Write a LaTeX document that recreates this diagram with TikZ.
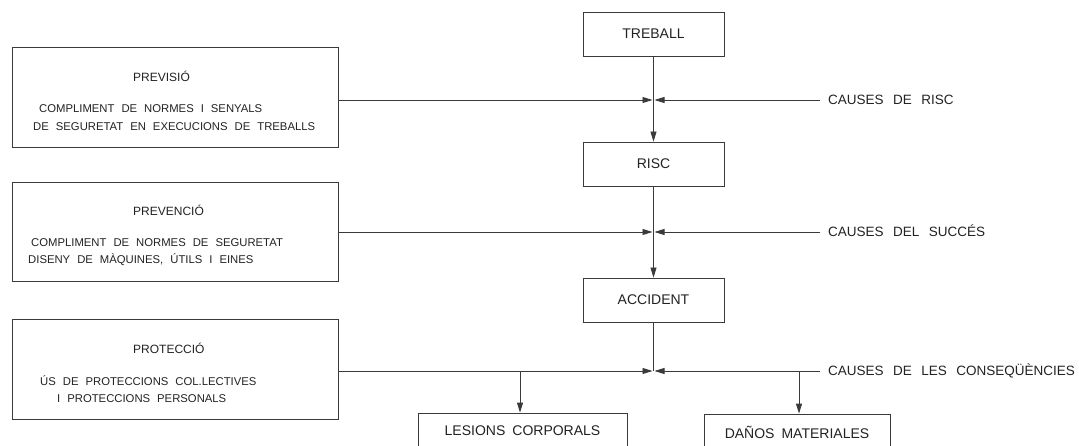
\documentclass[tikz,border=0pt]{standalone}
\usepackage{fontspec}
\setmainfont{Liberation Sans}
\usetikzlibrary{arrows.meta,shadows}
\definecolor{ln}{HTML}{3A3A3A}
\definecolor{tx}{HTML}{222222}
\newcommand\myBoxFont{\fontsize{14}{16}\selectfont\spaceskip 7pt\relax}
\newcommand\myBodyFont{\fontsize{11.3}{13}\selectfont\spaceskip 7pt\relax}
\newcommand\myTitleFont{\fontsize{12}{14}\selectfont}
\newcommand\myLblFont{\fontsize{13.5}{16}\selectfont\spaceskip 9.5pt\relax}
\tikzset{
  box/.style={draw=ln, line width=0.8pt, fill=white, rectangle, inner sep=0pt,
    drop shadow={shadow xshift=1.3pt, shadow yshift=-1.3pt, opacity=1, fill=ln},
    text=tx, font=\myBoxFont},
  bt/.style={anchor=west, inner sep=0pt, text=tx, text height=8.2pt, text depth=0pt,
    font=\myBodyFont},
  ttl/.style={anchor=west, inner sep=0pt, text=tx, text height=8.6pt, text depth=0pt,
    font=\myTitleFont},
  lbl/.style={anchor=west, inner xsep=8pt, inner ysep=0pt, text=tx, text height=9.7pt, text depth=0pt,
    font=\myLblFont},
  arr/.style={draw=ln, line width=0.8pt, -{Triangle[length=10pt,width=6pt]}},
  ln/.style={draw=ln, line width=0.8pt}
}
\begin{document}
\begin{tikzpicture}[x=1pt,y=-1pt]
\useasboundingbox (0,0) rectangle (1079,446);
\clip (0,0) rectangle (1079,446);
% central boxes
\node[box, minimum width=141pt, minimum height=44pt] (treball) at (653.5,34) {TREBALL};
\node[box, minimum width=141pt, minimum height=44pt] (risc) at (653.5,164) {RISC};
\node[box, minimum width=141pt, minimum height=44pt] (accident) at (653.5,300) {ACCIDENT};
\node[box, minimum width=209pt, minimum height=36pt] (lesions) at (522.5,431) {LESIONS CORPORALS};
\node[box, minimum width=186pt, minimum height=36pt] (danos) at (797,432) {DAÑOS MATERIALES};
% left boxes
\node[box, minimum width=326pt, minimum height=100pt] (previsio) at (175,97) {};
\node[box, minimum width=326pt, minimum height=99pt] (prevencio) at (175,231.5) {};
\node[box, minimum width=326pt, minimum height=100pt] (proteccio) at (175,369) {};
\node[ttl] (t1) at (133,77) {PREVISIÓ};
\node[bt] (t1a) at (39,108) {COMPLIMENT DE NORMES I SENYALS};
\node[bt] (t1b) at (33,126) {DE SEGURETAT EN EXECUCIONS DE TREBALLS};
\node[ttl] (t2) at (133,211) {PREVENCIÓ};
\node[bt] (t2a) at (31,242) {COMPLIMENT DE NORMES DE SEGURETAT};
\node[bt] (t2b) at (28,259) {DISENY DE MÀQUINES, ÚTILS I EINES};
\node[ttl] (t3) at (133,349) {PROTECCIÓ};
\node[bt] (t3a) at (40,381) {ÚS DE PROTECCIONS COL.LECTIVES};
\node[bt] (t3b) at (57,398) {I PROTECCIONS PERSONALS};
% right labels
\node[lbl] (c1) at (820,100) {CAUSES DE RISC};
\node[lbl] (c2) at (820,232) {CAUSES DEL SUCCÉS};
\node[lbl] (c3) at (820,371) {CAUSES DE LES CONSEQÜÈNCIES};
% junctions
\coordinate (j1) at (653.5,100);
\coordinate (j2) at (653.5,232);
\coordinate (j3) at (653.5,371);
\coordinate (b1) at (520,371);
\coordinate (b2) at (799,371);
% connectors
\draw[arr] (treball) -- (risc);
\draw[arr] (risc) -- (accident);
\draw[ln] (accident) -- (j3);
\draw[arr] (previsio.east |- j1) -- ([xshift=-1pt]j1);
\draw[arr] (c1.west) -- ([xshift=1pt]j1);
\draw[arr] (prevencio.east |- j2) -- ([xshift=-1pt]j2);
\draw[arr] (c2.west) -- ([xshift=1pt]j2);
\draw[arr] (proteccio.east |- j3) -- ([xshift=-1pt]j3);
\draw[arr] (c3.west) -- ([xshift=1pt]j3);
\draw[arr] (b1) -- (b1 |- lesions.north);
\draw[arr] (b2) -- (b2 |- danos.north);
\end{tikzpicture}
\end{document}
